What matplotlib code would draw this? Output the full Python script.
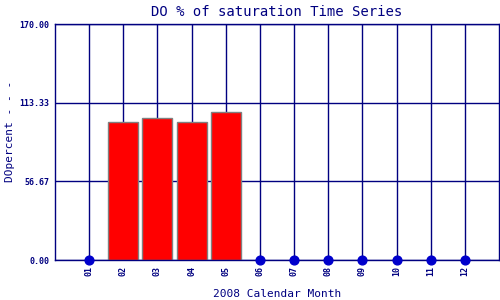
import matplotlib
matplotlib.use('Agg')
import matplotlib.pyplot as plt
import numpy as np

# Data
months = ['01', '02', '03', '04', '05', '06', '07', '08', '09', '10', '11', '12']
do_percent = [None, 99.4, 102.1, 99.4, 106.4, None, None, None, None, None, None, None]
y_ticks = [0.0, 56.67, 113.33, 170.0]

navy = '#000080'
dot_blue = '#0000cc'

plt.rcParams['font.family'] = ['DejaVu Sans Mono']

fig = plt.figure(figsize=(5, 3), dpi=100)
ax = fig.add_axes([0.11, 0.1333, 0.888, 0.7867])

x = np.arange(1, len(months) + 1)

# vertical grid lines at each month
for xi in x:
    ax.axvline(xi, color=navy, linewidth=1, zorder=1)
for yt in y_ticks:
    ax.axhline(yt, color=navy, linewidth=1, zorder=1)

# bars for months with data, dots for months without
bar_x = [xi for xi, v in zip(x, do_percent) if v is not None]
bar_v = [v for v in do_percent if v is not None]
ax.bar(bar_x, bar_v, width=0.88, color='#ff0000', edgecolor='#808080', linewidth=1, zorder=2)

dot_x = [xi for xi, v in zip(x, do_percent) if v is None]
ax.scatter(dot_x, [0] * len(dot_x), s=40, color=dot_blue, zorder=3, clip_on=False)

ax.set_xlim(0, 13)
ax.set_ylim(0, 170)
ax.set_xticks(x)
ax.set_xticklabels(months, rotation=90, fontsize=6, color=navy, fontweight='bold')
ax.set_yticks(y_ticks)
ax.set_yticklabels(['%.2f' % t for t in y_ticks], fontsize=6, color=navy, fontweight='bold')
ax.tick_params(length=0, pad=4)

for s in ax.spines.values():
    s.set_color(navy)
    s.set_linewidth(1)

ax.set_title('DO % of saturation Time Series', fontsize=10, color=navy, pad=6)
ax.set_xlabel('2008 Calendar Month', fontsize=8, color=navy, labelpad=10)
fig.text(0.02, 0.393, 'DOpercent - - -', rotation=90, fontsize=8, color=navy,
         ha='center', va='bottom')

fig.savefig('out.png', dpi=100)
